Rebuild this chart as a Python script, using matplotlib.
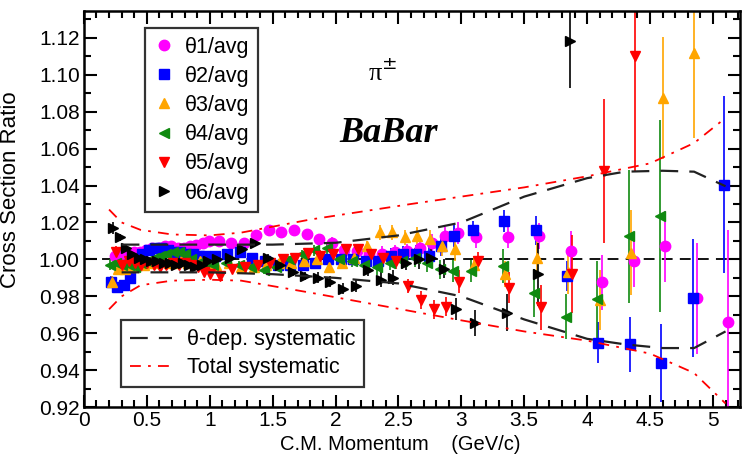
import matplotlib
matplotlib.use("Agg")
import matplotlib.pyplot as plt
from matplotlib.ticker import MultipleLocator, FuncFormatter

# momentum bins (GeV/c)
momentum = [0.225, 0.275, 0.325, 0.375, 0.425, 0.475, 0.525, 0.575, 0.625, 0.675,
            0.725, 0.775, 0.825, 0.875, 0.925, 0.975,
            1.05, 1.15, 1.25, 1.35, 1.45, 1.55, 1.65, 1.75, 1.85, 1.95,
            2.05, 2.15, 2.25, 2.35, 2.45, 2.55, 2.65, 2.75, 2.85, 2.95,
            3.1, 3.35, 3.6, 3.85, 4.1, 4.35, 4.6, 4.85, 5.1]

# typical statistical error in the first 36 bins
err_low = [0.003, 0.002, 0.002, 0.002, 0.002, 0.002, 0.002, 0.002, 0.002, 0.002,
           0.002, 0.002, 0.002, 0.002, 0.002, 0.002,
           0.002, 0.002, 0.002, 0.002, 0.002, 0.002, 0.002, 0.002, 0.003, 0.003,
           0.003, 0.003, 0.003, 0.004, 0.004, 0.004, 0.005, 0.005, 0.005, 0.006]

theta1 = [1.002, 1.003, 1.003, 1.004, 1.004, 1.005, 1.006, 1.006, 1.007, 1.007,
          1.006, 1.006, 1.007, 1.008, 1.009, 1.010,
          1.010, 1.009, 1.009, 1.013, 1.016, 1.015, 1.016, 1.014, 1.011, 1.009,
          1.005, 1.0045, 1.003, 1.003, 1.004, 1.0045, 1.006, 1.009, 1.0125, 1.0145,
          1.012, 1.012, 1.0125, 1.0045, 0.9875, 0.999, 1.007, 0.979, 0.966]
theta1_err_high = [0.006, 0.006, 0.007, 0.011, 0.015, 0.014, 0.019, 0.030, 0.050]

theta2 = [0.988, 0.985, 0.986, 0.990, 0.997, 1.003, 1.005, 1.006, 1.006, 1.005,
          1.004, 1.004, 1.003, 1.003, 1.002, 1.002,
          1.002, 1.003, 1.004, 1.001, 0.999, 0.997, 0.997, 0.997, 0.998, 1.000,
          1.000, 1.000, 0.999, 0.999, 1.002, 1.003, 1.003, 1.002, 1.007, 1.0125,
          1.0157, 1.0207, 1.0157, 0.991, 0.955, 0.954, 0.944, 0.979, 1.0405]
theta2_err_high = [0.005, 0.006, 0.008, 0.008, 0.011, 0.015, 0.021, 0.032, 0.048]

theta3 = [0.988, 0.995, 0.995, 0.996, 0.997, 0.997, 0.998, 0.998, 0.999, 0.998,
          0.998, 0.999, 0.998, 0.999, 0.999, 0.998,
          0.997, 0.998, 0.996, 0.996, 0.997, 0.998, 0.998, 0.999, 1.000, 0.996,
          0.998, 1.001, 1.007, 1.0146, 1.0146, 1.012, 1.0126, 1.011, 1.007, 1.0054,
          0.997, 0.992, 1.001, 0.993, 0.978, 1.0036, 1.0874, 1.112]
theta3_err_high = [0.005, 0.007, 0.010, 0.012, 0.016, 0.023, 0.033, 0.046]

theta4 = [0.997, 0.998, 0.997, 0.997, 0.996, 0.998, 0.999, 1.001, 1.002, 1.003,
          1.004, 1.004, 1.003, 1.000, 0.998, 0.997,
          0.997, 0.998, 0.997, 0.996, 0.994, 0.996, 1.000, 1.003, 1.005, 1.006,
          1.000, 0.999, 0.997, 0.9957, 0.998, 0.999, 1.001, 0.998, 0.9946, 0.9937,
          0.9937, 0.9964, 0.982, 0.969, 0.9784, 1.0126, 1.0234]
theta4_err_high = [0.006, 0.009, 0.013, 0.012, 0.021, 0.036, 0.052]

theta5 = [1.004, 0.997, 0.999, 0.998, 0.997, 0.998, 0.997, 0.996, 0.997, 0.998,
          0.997, 0.998, 0.997, 0.996, 0.993, 0.992,
          0.991, 0.9946, 0.9957, 0.997, 0.998, 1.000, 1.001, 1.0036, 1.002, 1.0027,
          1.0054, 1.0054, 1.0027, 1.001, 0.999, 0.9856, 0.978, 0.973, 0.9745, 0.988,
          0.999, 0.9847, 0.974, 0.992, 1.0477, 1.11]
theta5_err_high = [0.005, 0.0085, 0.012, 0.021, 0.039, 0.062]

theta6 = [1.017, 1.012, 1.006, 1.003, 1.001, 1.000, 0.999, 0.999, 0.998, 0.998,
          0.997, 0.998, 0.997, 0.996, 0.997, 0.999,
          1.000, 1.001, 1.0054, 1.009, 1.001, 0.997, 0.993, 0.991, 0.990, 0.988,
          0.984, 0.9856, 0.994, 0.989, 0.990, 0.998, 1.000, 1.001, 0.995, 0.973,
          0.9658, 0.971, 0.992, 1.118]
theta6_err_high = [0.007, 0.010, 0.017, 0.025]

# systematic bands
sys_p = [0.3, 0.5, 1.0, 1.5, 2.0, 2.5, 3.0, 3.5, 4.0, 4.3, 4.6, 4.85, 5.1]
sys_up = [1.008, 1.008, 1.008, 1.008, 1.009, 1.013, 1.020, 1.034, 1.044, 1.0475, 1.048, 1.0475, 1.0396]
sys_lo = [0.993, 0.993, 0.993, 0.992, 0.990, 0.987, 0.980, 0.9675, 0.957, 0.954, 0.952, 0.952, 0.961]

tot_p = [0.2, 0.3, 0.45, 0.7, 1.0, 1.25, 1.8, 2.6, 3.0, 3.5, 4.0, 4.5, 4.85, 5.1]
tot_up = [1.027, 1.020, 1.016, 1.0135, 1.013, 1.0145, 1.0216, 1.030, 1.034, 1.039, 1.045, 1.052, 1.063, 1.0766]
tot_lo = [0.973, 0.980, 0.986, 0.9885, 0.989, 0.9885, 0.982, 0.972, 0.967, 0.961, 0.956, 0.949, 0.9385, 0.922]

series = [
    ("θ1/avg", theta1, theta1_err_high, "#ff00ff", "o", 7.5, 0.02),
    ("θ2/avg", theta2, theta2_err_high, "#0000ff", "s", 6.5, -0.01),
    ("θ3/avg", theta3, theta3_err_high, "#ffa500", "^", 7.5, 0.0),
    ("θ4/avg", theta4, theta4_err_high, "#108a10", "<", 7.5, -0.02),
    ("θ5/avg", theta5, theta5_err_high, "#ff0000", "v", 7.5, 0.03),
    ("θ6/avg", theta6, theta6_err_high, "#000000", ">", 7.5, 0.01),
]

plt.rcParams["font.family"] = ["Liberation Sans", "DejaVu Sans"]

fig = plt.figure(figsize=(7.49, 4.58), dpi=100)
ax = fig.add_axes([0.112, 0.111, 0.876, 0.865])

ax.axhline(1.0, color="black", lw=1.3, dashes=(6, 4), zorder=1)

handles = []
for label, vals, err_high, color, marker, ms, dx in series:
    x = [p + dx for p in momentum[:len(vals)]]
    err = err_low + err_high
    ax.errorbar(x, vals, yerr=err, fmt="none", ecolor=color, elinewidth=1.2, zorder=2)
    h, = ax.plot(x, vals, ls="none", marker=marker, ms=ms, color=color,
                 mec=color, label=label, zorder=3)
    handles.append(h)

ln_sys, = ax.plot(sys_p, sys_up, color="#222222", lw=1.6, dashes=(8, 5), zorder=4,
                  label="θ-dep. systematic")
ax.plot(sys_p, sys_lo, color="#222222", lw=1.6, dashes=(8, 5), zorder=4)
ln_tot, = ax.plot(tot_p, tot_up, color="#ff0000", lw=1.3, dashes=(6, 4, 1.5, 4), zorder=4,
                  label="Total systematic")
ax.plot(tot_p, tot_lo, color="#ff0000", lw=1.3, dashes=(6, 4, 1.5, 4), zorder=4)

ax.set_xlim(0, 5.215)
ax.set_ylim(0.92, 1.1345)
ax.xaxis.set_major_locator(MultipleLocator(0.5))
ax.xaxis.set_minor_locator(MultipleLocator(0.1))
ax.yaxis.set_major_locator(MultipleLocator(0.02))
ax.yaxis.set_minor_locator(MultipleLocator(0.01))
ax.xaxis.set_major_formatter(FuncFormatter(lambda v, pos: f"{v:g}"))
ax.yaxis.set_major_formatter(FuncFormatter(lambda v, pos: f"{v:.2f}"))
ax.tick_params(which="both", direction="in", top=True, right=True, width=1.5,
               labelsize=15, pad=3)
ax.tick_params(which="major", length=9)
ax.tick_params(which="minor", length=5)
for s in ax.spines.values():
    s.set_linewidth(1.8)

ax.set_xlabel("C.M. Momentum    (GeV/c)", fontsize=14.5)
ax.xaxis.set_label_coords(0.482, -0.07)
ax.set_ylabel("Cross Section Ratio", fontsize=16)
ax.yaxis.set_label_coords(-0.096, 0.55)

ax.text(0.455, 0.845, "π$^{\\pm}$", transform=ax.transAxes, ha="center", va="center",
        fontsize=19, family="Liberation Serif")
ax.text(0.465, 0.69, "BaBar", transform=ax.transAxes, ha="center", va="center",
        fontsize=26, family="Liberation Serif", style="italic", weight="bold")

leg1 = ax.legend(handles=handles, loc="upper left", bbox_to_anchor=(0.093, 0.957),
                 fontsize=15.5, frameon=True, fancybox=False, edgecolor="black",
                 handlelength=1.0, handletextpad=0.45, labelspacing=0.38,
                 borderpad=0.4, borderaxespad=0, numpoints=1)
leg1.get_frame().set_linewidth(1.6)
ax.add_artist(leg1)

leg2 = ax.legend(handles=[ln_sys, ln_tot], loc="upper left", bbox_to_anchor=(0.056, 0.219),
                 fontsize=15.5, frameon=True, fancybox=False, edgecolor="black",
                 handlelength=1.95, handletextpad=0.7, labelspacing=0.31,
                 borderpad=0.42, borderaxespad=0)
leg2.get_frame().set_linewidth(1.6)

fig.savefig("out.png", dpi=100)
